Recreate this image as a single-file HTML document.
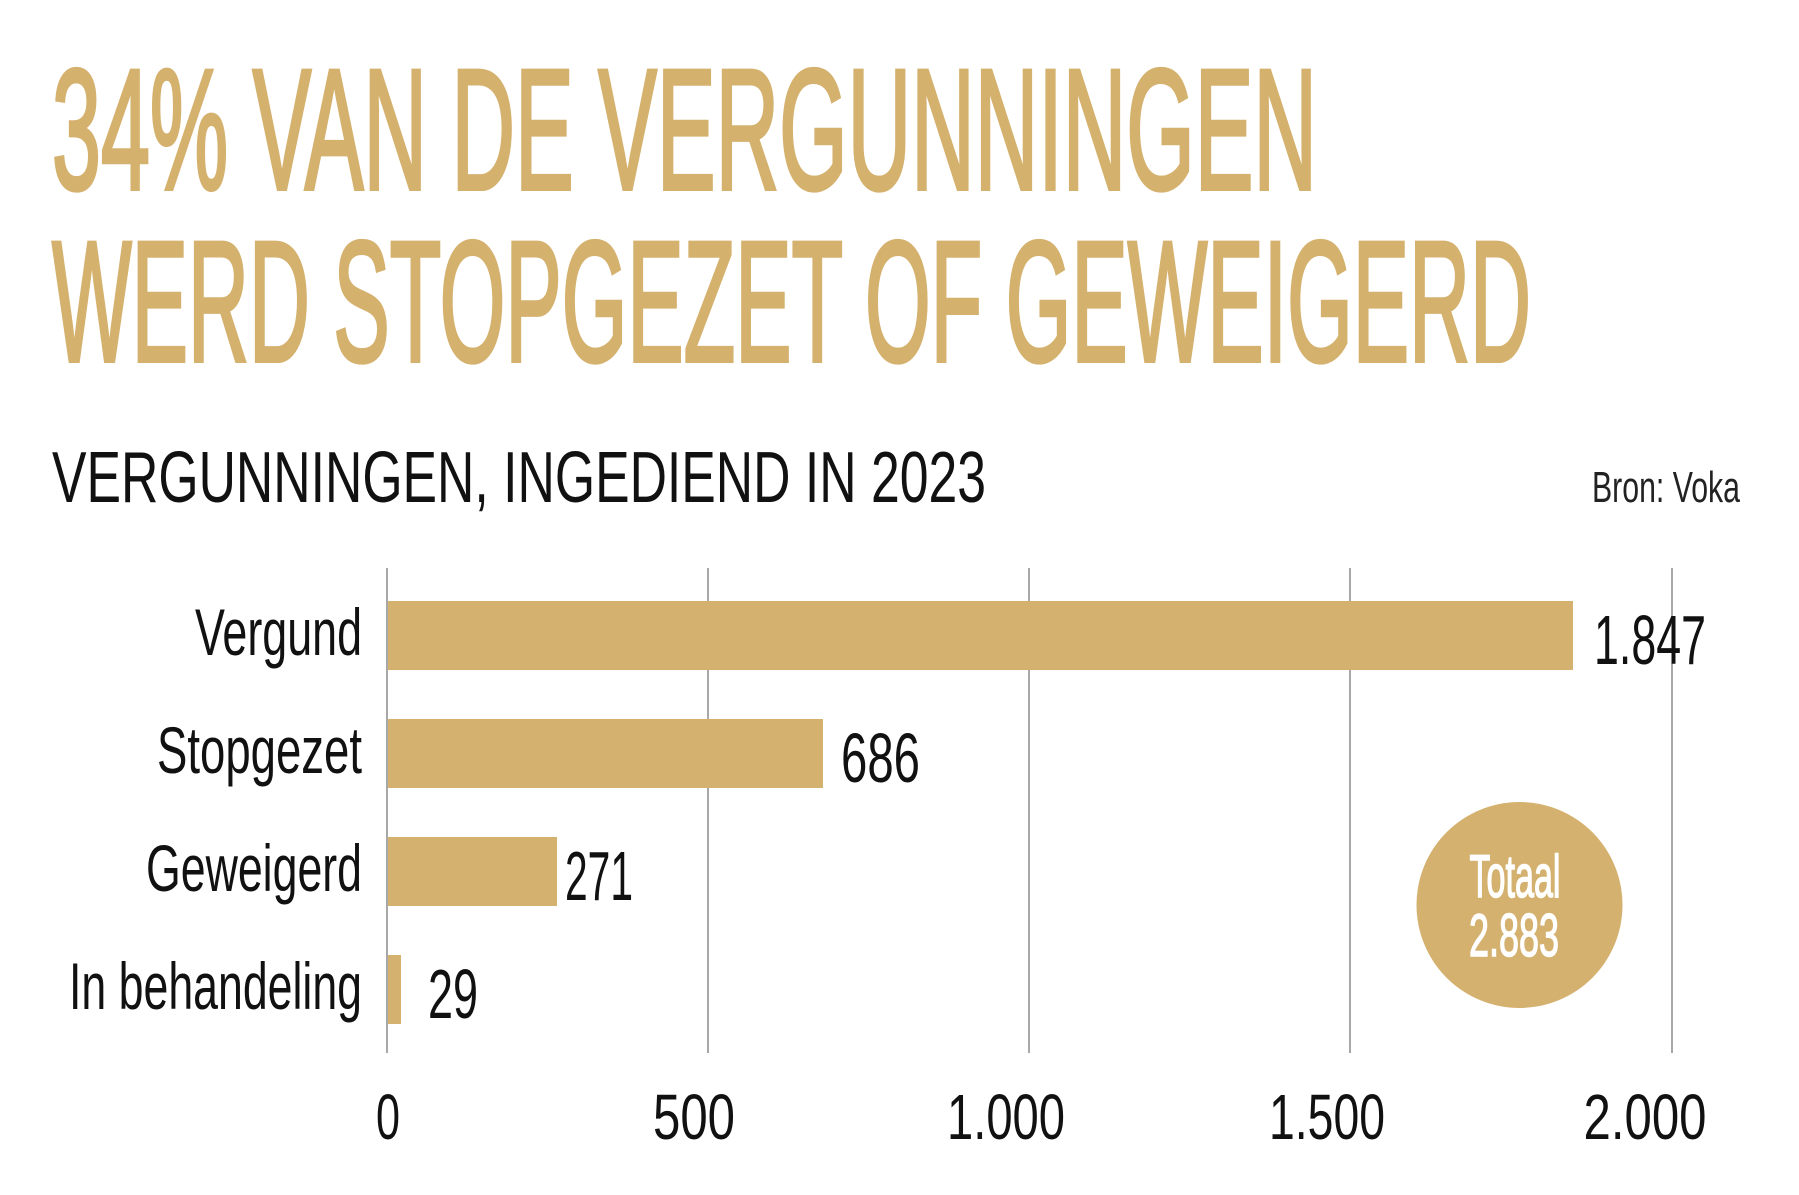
<!DOCTYPE html>
<html><head><meta charset="utf-8"><style>
html,body{margin:0;padding:0;background:#fff;width:1799px;height:1195px;overflow:hidden}
svg{display:block}
text{font-family:"Liberation Sans Narrow","Liberation Sans",sans-serif}
</style></head><body>
<svg width="1799" height="1195" viewBox="0 0 1799 1195" xmlns="http://www.w3.org/2000/svg">
<g fill="#D5B16E" stroke="#D5B16E" stroke-width="4" font-size="172">
<text x="52" y="189" textLength="1265" lengthAdjust="spacingAndGlyphs">34% VAN DE VERGUNNINGEN</text>
<text x="52" y="361" textLength="1479" lengthAdjust="spacingAndGlyphs">WERD STOPGEZET OF GEWEIGERD</text>
</g>
<text x="52" y="502" font-size="72" fill="#111" textLength="934" lengthAdjust="spacingAndGlyphs">VERGUNNINGEN, INGEDIEND IN 2023</text>
<text x="1592" y="502" font-size="44" fill="#222" textLength="148" lengthAdjust="spacingAndGlyphs">Bron: Voka</text>
<g stroke="#a8a8a8" stroke-width="2">
<line x1="387" y1="568" x2="387" y2="1053"/>
<line x1="708" y1="568" x2="708" y2="1053"/>
<line x1="1029" y1="568" x2="1029" y2="1053"/>
<line x1="1350" y1="568" x2="1350" y2="1053"/>
<line x1="1672" y1="568" x2="1672" y2="1053"/>
</g>
<g fill="#D4B16F">
<rect x="388" y="601" width="1185" height="69"/>
<rect x="388" y="719" width="435" height="69"/>
<rect x="388" y="837" width="169" height="69"/>
<rect x="388" y="955" width="13" height="69"/>
<circle cx="1519.5" cy="905" r="103"/>
</g>
<g font-size="66" fill="#111" text-anchor="end">
<text x="362" y="655" textLength="167" lengthAdjust="spacingAndGlyphs">Vergund</text>
<text x="362" y="773" textLength="205" lengthAdjust="spacingAndGlyphs">Stopgezet</text>
<text x="362" y="891" textLength="216" lengthAdjust="spacingAndGlyphs">Geweigerd</text>
<text x="362" y="1009" textLength="293" lengthAdjust="spacingAndGlyphs">In behandeling</text>
</g>
<g font-size="70" fill="#111">
<text x="1594" y="664" textLength="112" lengthAdjust="spacingAndGlyphs">1.847</text>
<text x="841" y="782" textLength="79" lengthAdjust="spacingAndGlyphs">686</text>
<text x="565" y="900" textLength="68" lengthAdjust="spacingAndGlyphs">271</text>
<text x="428" y="1018" textLength="50" lengthAdjust="spacingAndGlyphs">29</text>
</g>
<g font-size="64" fill="#111" text-anchor="middle">
<text x="388" y="1139" textLength="24" lengthAdjust="spacingAndGlyphs">0</text>
<text x="694" y="1139" textLength="82" lengthAdjust="spacingAndGlyphs">500</text>
<text x="1006" y="1139" textLength="118" lengthAdjust="spacingAndGlyphs">1.000</text>
<text x="1327" y="1139" textLength="116" lengthAdjust="spacingAndGlyphs">1.500</text>
<text x="1645" y="1139" textLength="123" lengthAdjust="spacingAndGlyphs">2.000</text>
</g>
<g font-size="60" fill="#fff" stroke="#fff" stroke-width="1.5" text-anchor="middle">
<text x="1515" y="897" textLength="91" lengthAdjust="spacingAndGlyphs">Totaal</text>
<text x="1514" y="956" textLength="90" lengthAdjust="spacingAndGlyphs">2.883</text>
</g>
</svg>
</body></html>
